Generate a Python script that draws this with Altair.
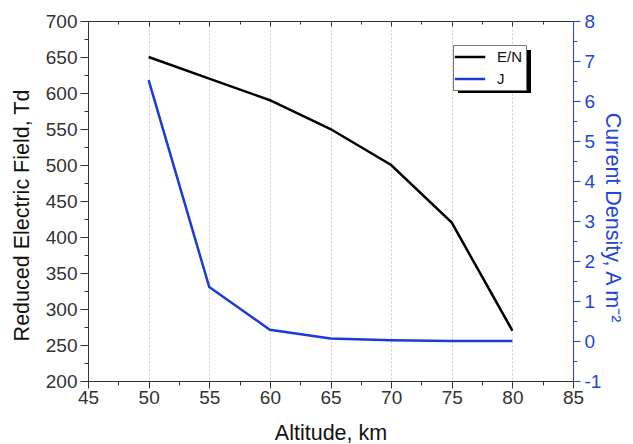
import altair as alt
import pandas as pd

# ---- data ----
altitude_km = [50, 55, 60, 65, 70, 75, 80]
reduced_field_td = [650, 620, 590, 550, 500, 420, 270]
current_density = [6.52, 1.35, 0.28, 0.06, 0.02, 0.0, 0.0]
series_names = ["E/N", "J"]
series_colors = ["#000000", "#1c3ad8"]

x_tick_values = [45, 47.5, 50, 52.5, 55, 57.5, 60, 62.5, 65, 67.5, 70, 72.5, 75, 77.5, 80, 82.5, 85]
left_tick_values = [200, 225, 250, 275, 300, 325, 350, 375, 400, 425, 450, 475, 500, 525, 550, 575,
                    600, 625, 650, 675, 700]
right_tick_values = [-1, -0.5, 0, 0.5, 1, 1.5, 2, 2.5, 3, 3.5, 4, 4.5, 5, 5.5, 6, 6.5, 7, 7.5, 8]

df = pd.DataFrame({
    "altitude": altitude_km,
    "field": reduced_field_td,
    "density": current_density,
})

FONT = "Liberation Sans"
BLUE = "#2444e0"
AX = "#333333"
W, H = 485, 360
LABEL_FS = 19
TITLE_FS = 21.5

x_scale = alt.Scale(domain=[45, 85], nice=False, zero=False)


def cond(test, a, b):
    return {"condition": {"test": test, "value": a}, "value": b}


x_main = alt.X(
    "altitude:Q", scale=x_scale,
    axis=alt.Axis(
        orient="bottom", values=x_tick_values,
        labelExpr="datum.value % 5 === 0 ? datum.label : ''",
        tickSize=cond("datum.value % 5 === 0", 7, 4),
        grid=True,
        gridOpacity=cond("datum.value % 5 === 0", 1, 0),
        gridDash=[2, 2], gridColor="#cccccc", gridWidth=1,
        domainColor=AX, tickColor=AX, labelColor=AX,
        labelFontSize=LABEL_FS, labelPadding=0, labelOverlap=False, labelFlush=False,
        title="Altitude, km", titleFontSize=TITLE_FS, titleFontWeight="normal",
        titleColor="#111111", titlePadding=15,
    ),
)

x_top = alt.X(
    "altitude:Q", scale=x_scale,
    axis=alt.Axis(
        orient="bottom", offset=-H, values=x_tick_values, labels=False, title=None,
        domain=False, grid=False, tickColor=AX,
        tickSize=cond("datum.value % 5 === 0", 5, 3),
    ),
)

color = alt.Color(
    "series:N",
    scale=alt.Scale(domain=series_names, range=series_colors),
    legend=alt.Legend(
        orient="none", legendX=365, legendY=24, direction="vertical", title=None,
        strokeColor="#777777", fillColor="#ffffff", padding=3,
        symbolType="M-2.03,0H2.03", symbolSize=225, symbolStrokeWidth=2.5,
        symbolOffset=5,
        labelFontSize=15, labelFont=FONT, labelColor="#111111",
        labelOffset=18, rowPadding=5,
    ),
)

shadow = alt.Chart(alt.Data(values=[{}])).mark_rect(color="#000000").encode(
    x=alt.value(370), x2=alt.value(443), y=alt.value(29), y2=alt.value(72)
)

en_line = alt.Chart(df).transform_calculate(
    series=f"'{series_names[0]}'"
).mark_line(strokeWidth=2.5).encode(
    x=x_main,
    y=alt.Y(
        "field:Q",
        scale=alt.Scale(domain=[200, 700], nice=False, zero=False),
        axis=alt.Axis(
            orient="left", values=left_tick_values,
            labelExpr="datum.value % 50 === 0 ? datum.label : ''",
            tickSize=cond("datum.value % 50 === 0", 8, 4),
            grid=False, domainColor=AX, tickColor=AX, labelColor=AX,
            labelFontSize=LABEL_FS, labelPadding=3, labelOverlap=False, labelFlush=False,
            title="Reduced Electric Field, Td", titleFontSize=TITLE_FS,
            titleFontWeight="normal", titleColor="#111111", titlePadding=12,
            titleY=194,
        ),
    ),
    color=color,
)

j_line = alt.Chart(df).transform_calculate(
    series=f"'{series_names[1]}'"
).mark_line(strokeWidth=2.5).encode(
    x=x_top,
    y=alt.Y(
        "density:Q",
        scale=alt.Scale(domain=[-1, 8], nice=False, zero=False),
        axis=alt.Axis(
            orient="right", values=right_tick_values,
            labelExpr="datum.value % 1 === 0 ? '' + datum.value : ''",
            tickSize=cond("datum.value % 1 === 0", 7, 4),
            grid=False, domainColor=BLUE, tickColor=BLUE, labelColor=BLUE,
            labelFontSize=LABEL_FS, labelPadding=4, labelOverlap=False, labelFlush=False,
            title="Current Density, A m\u207b\u00b2", titleFontSize=TITLE_FS,
            titleFontWeight="normal", titleColor=BLUE, titlePadding=0,
            titleY=196,
        ),
    ),
    color=color,
)

chart = alt.layer(shadow, en_line, j_line).resolve_scale(
    y="independent"
).resolve_axis(
    x="independent", y="independent"
).properties(
    width=W, height=H,
    autosize=alt.AutoSizeParams(type="none"),
    padding={"left": 80, "top": 13, "right": 52, "bottom": 63},
).configure(
    font=FONT,
).configure_view(
    stroke=AX, strokeWidth=1,
)

chart.save("out.html", embed_options={"renderer": "svg", "actions": False})
